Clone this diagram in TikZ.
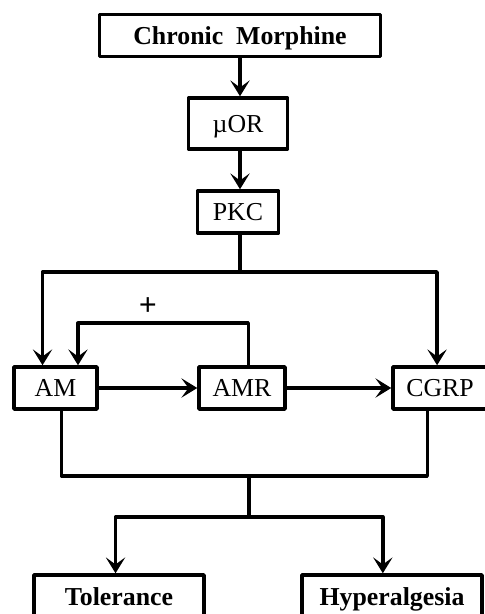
\documentclass[tikz,border=0pt]{standalone}
\usepackage{fontspec}
\setmainfont{Liberation Serif}
\usetikzlibrary{arrows.meta,calc}

\begin{document}
\begin{tikzpicture}[x=0.02cm,y=-0.02cm,line width=2pt,line join=round,
  box/.style={draw,rectangle,inner sep=0pt,text height=11.5pt,text depth=1.5pt,minimum height=0.84cm,font=\fontsize{14.7}{17}\selectfont},
  arr/.style={-{Stealth[length=9pt,width=11pt,inset=4pt]}}]
\useasboundingbox (0,0) rectangle (484,614);
\node[box,minimum width=5.62cm,font=\fontsize{14.7}{17}\selectfont\bfseries] (cm) at (240,35.5) {Chronic\hspace{0.5em}Morphine};
\node[box,minimum width=1.98cm,minimum height=1.02cm] (mor) at (238,123.5) {µOR};
\node[box,minimum width=1.62cm] (pkc) at (238,212) {PKC};
\node[box,minimum width=1.66cm] (am) at (55.5,388) {AM};
\node[box,minimum width=1.72cm] (amr) at (242,388) {AMR};
\node[box,minimum width=1.88cm] (cgrp) at (440,388) {CGRP};
\node[box,minimum width=3.4cm,minimum height=0.86cm,font=\fontsize{14.7}{17}\selectfont\bfseries] (tol) at (119,596.5) {Tolerance};
\node[box,minimum width=3.6cm,minimum height=0.86cm,font=\fontsize{14.7}{17}\selectfont\bfseries] (hyp) at (392,596.5) {Hyperalgesia};
\node[font=\fontsize{18}{20}\selectfont\bfseries] (plus) at (148,307) {+};
\coordinate (top) at (240,272);
\coordinate (mid) at (249,476);
\coordinate (low) at (249,517);
% top chain
\draw[arr] (cm.south -| top) -- (mor.north -| top);
\draw[arr] (mor.south -| top) -- (pkc.north -| top);
\draw (pkc.south -| top) -- (top);
\draw[arr] (top) -| ($(am.north west)!.35!(am.north east)$);
\draw[arr] (top) -| ($(cgrp.north west)!.47!(cgrp.north east)$);
% middle row and feedback
\draw[arr] (am) -- (amr);
\draw[arr] (amr) -- (cgrp);
\draw[arr] ($(amr.north west)!.57!(amr.north east)$) -- ++(0,-42) -| ($(am.north west)!.76!(am.north east)$);
% outputs
\draw ($(am.south west)!.57!(am.south east)$) |- (mid) -| ($(cgrp.south west)!.37!(cgrp.south east)$);
\draw (mid) -- (low);
\draw[arr] (low) -| ($(tol.north west)!.48!(tol.north east)$);
\draw[arr] (low) -| ($(hyp.north west)!.45!(hyp.north east)$);
\end{tikzpicture}
\end{document}
